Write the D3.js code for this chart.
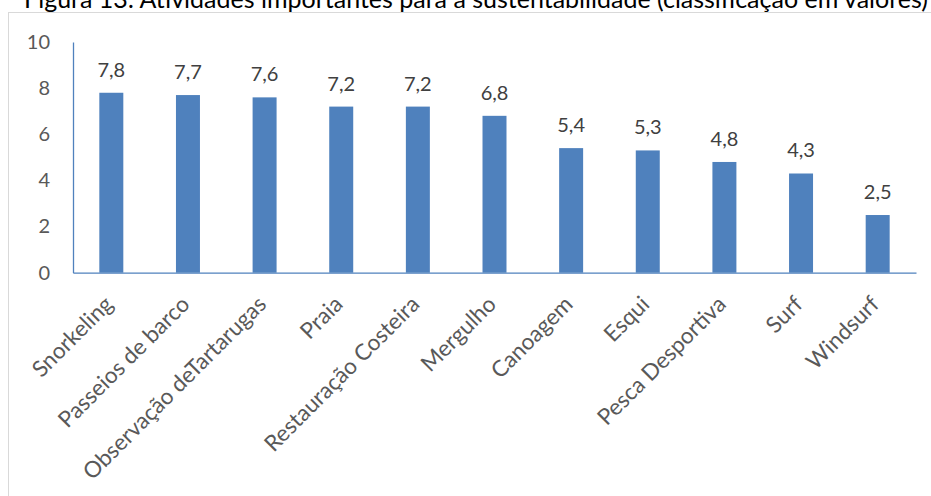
<!DOCTYPE html>
<html>
<head>
<meta charset="utf-8">
<script src="https://cdn.jsdelivr.net/npm/d3@7"></script>
<style>
  html, body { margin: 0; padding: 0; background: #fff; }
  svg { display: block; }
  text { font-family: Lato, "Open Sans", sans-serif; }
</style>
</head>
<body>
<svg id="chart" width="931" height="496"></svg>
<script>
const title = "Figura 13: Atividades importantes para a sustentabilidade (classificação em valores)";
const categories = ["Snorkeling", "Passeios de barco", "Observação deTartarugas", "Praia", "Restauração Costeira", "Mergulho", "Canoagem", "Esqui", "Pesca Desportiva", "Surf", "Windsurf"];
const values = [7.8, 7.7, 7.6, 7.2, 7.2, 6.8, 5.4, 5.3, 4.8, 4.3, 2.5];
const yTicks = [0, 2, 4, 6, 8, 10];

const W = 931, H = 496;
const svg = d3.select("#chart");

// chart area border
svg.append("rect")
  .attr("x", 8.5).attr("y", 12.5)
  .attr("width", W + 10).attr("height", H + 10)
  .attr("fill", "#fff").attr("stroke", "#D9D9D9").attr("stroke-width", 1);

// title (sits right at the top edge like the reference)
svg.append("text")
  .attr("x", 476).attr("y", 7.5)
  .attr("text-anchor", "middle")
  .attr("font-size", 25)
  .attr("fill", "#000")
  .text(title);

const x = d3.scaleBand()
  .domain(categories)
  .range([73, 916])
  .paddingInner(0.687)
  .paddingOuter(0.3435);

const y = d3.scaleLinear().domain([0, 10]).range([272.7, 42]);

// bars
svg.append("g").selectAll("rect")
  .data(categories.map((c, i) => ({ c, v: values[i] })))
  .join("rect")
  .attr("x", d => x(d.c))
  .attr("y", d => y(d.v))
  .attr("width", x.bandwidth())
  .attr("height", d => y(0) - y(d.v))
  .attr("fill", "#4F81BD");

// value labels
svg.append("g").selectAll("text")
  .data(categories.map((c, i) => ({ c, v: values[i] })))
  .join("text")
  .attr("x", d => x(d.c) + x.bandwidth() / 2)
  .attr("y", d => y(d.v) - 16)
  .attr("text-anchor", "middle")
  .attr("font-size", 20)
  .attr("fill", "#404040")
  .text(d => d3.format(".1f")(d.v).replace(".", ","));

// y axis
const yAxis = d3.axisLeft(y).tickValues(yTicks).tickSize(0).tickPadding(23).tickFormat(d => d);
const gy = svg.append("g").attr("transform", "translate(73,0)").call(yAxis);
gy.select(".domain").attr("stroke", "#4F81BD").attr("stroke-width", 1.3);
gy.selectAll("text").attr("font-size", 20).attr("fill", "#595959")
  .attr("font-family", "Lato, 'Open Sans', sans-serif");

// x axis
const xAxis = d3.axisBottom(x).tickSize(0).tickPadding(0);
const gx = svg.append("g").attr("transform", `translate(0,${y(0)})`).call(xAxis);
gx.select(".domain").attr("stroke", "#4F81BD").attr("stroke-width", 1.3);
gx.selectAll(".tick text")
  .attr("font-size", 22.5)
  .attr("fill", "#595959")
  .attr("font-family", "Lato, 'Open Sans', sans-serif")
  .attr("text-anchor", "end")
  .attr("dy", null)
  .attr("y", null)
  .attr("transform", "translate(3,33) rotate(-45)");
</script>
</body>
</html>
